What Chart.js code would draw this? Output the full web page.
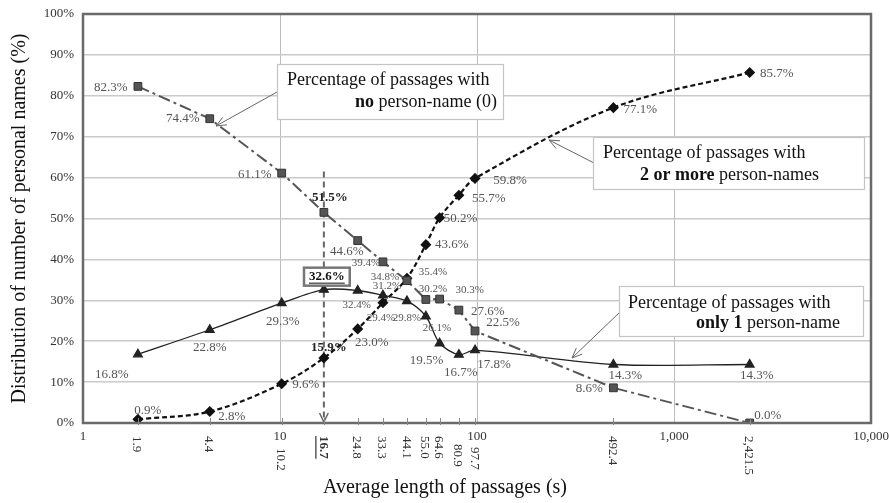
<!DOCTYPE html>
<html>
<head>
<meta charset="utf-8">
<script src="https://cdn.jsdelivr.net/npm/chart.js@4.4.1/dist/chart.umd.min.js"></script>
<style>
  html, body { margin: 0; padding: 0; background: #fff; }
  #wrap { width: 889px; height: 503px; position: relative; }
</style>
</head>
<body>
<div id="wrap"><canvas id="c"></canvas></div>
<script>
// ---------------- DATA ----------------
const xValues = [1.9, 4.4, 10.2, 16.7, 24.8, 33.3, 44.1, 55.0, 64.6, 80.9, 97.7, 492.4, 2421.5];
const xValueLabels = ['1.9', '4.4', '10.2', '16.7', '24.8', '33.3', '44.1', '55.0', '64.6', '80.9', '97.7', '492.4', '2,421.5'];
const noNameValues  = [82.3, 74.4, 61.1, 51.5, 44.6, 39.4, 34.8, 30.2, 30.3, 27.6, 22.5, 8.6, 0.0];
const oneNameValues = [16.8, 22.8, 29.3, 32.6, 32.4, 31.2, 29.8, 26.1, 19.5, 16.7, 17.8, 14.3, 14.3];
const twoMoreValues = [0.9, 2.8, 9.6, 15.9, 23.0, 29.4, 35.4, 43.6, 50.2, 55.7, 59.8, 77.1, 85.7];
const decadeTicks  = [1, 10, 100, 1000, 10000];
const decadeLabels = ['1', '10', '100', '1,000', '10,000'];
const highlightIndex = 3;        // 16.7 s
const highlightTop = 61.5;       // top of the dashed marker line (%)

// ---------------- LABEL LAYOUT (pixel offsets from each point) ----------------
// [dx, dy, size, bold]
const noNameLabelPos = [
  [-27, 1, 13], [-27, 0, 13], [-27, 1, 13], [6, -15, 13, true], [-11, 11, 13],
  [-17, 1, 11], [-22, -4, 11], [7, -10, 11], [30, -9, 11], [29, 1, 13],
  [28, -8, 13], [-24, 1, 13], [18, -7, 13]
];
const oneNameLabelPos = [
  [-26, 20, 13], [0, 18, 13], [1, 18, 13], [3, -13, 13, true], [-1, 15, 11],
  [4, -9, 11], [0, 17, 11], [11, 12, 11], [-13, 17, 13], [2, 18, 13],
  [19, 14, 13], [12, 11, 13], [7, 11, 13]
];
const twoMoreLabelPos = [
  [10, -9, 13], [22, 5, 13], [24, 1, 13], [5, -10, 13, true], [14, 14, 13],
  [-2, 15, 11], [26, -6, 11], [26, 0, 13], [21, 1, 13], [30, 3, 13],
  [35, 2, 13], [27, 2, 13], [27, 1, 13]
];
const xLabelShift = [0, 0, 12, 0, 0, 0, 0, 0, 0, 8, 11, 0, 0];

const SERIF = '"Liberation Serif", "DejaVu Serif", serif';

const callouts = [
  { box: [277, 64, 503, 119], arrowFrom: [277, 92], arrowTo: [216, 126],
    lines: [
      { y: 80, x: 287, align: 'left', parts: [['Percentage of passages with', false]] },
      { y: 102, x: 497, align: 'right', parts: [['no', true], [' person-name (0)', false]] }
    ] },
  { box: [593, 137, 864, 189], arrowFrom: [594, 163], arrowTo: [549, 140],
    lines: [
      { y: 153, x: 603, align: 'left', parts: [['Percentage of passages with', false]] },
      { y: 175, x: 819, align: 'right', parts: [['2 or more', true], [' person-names', false]] }
    ] },
  { box: [619, 286, 863, 336], arrowFrom: [620, 312], arrowTo: [572, 358],
    lines: [
      { y: 303, x: 628, align: 'left', parts: [['Percentage of passages with', false]] },
      { y: 323, x: 840, align: 'right', parts: [['only 1', true], [' person-name', false]] }
    ] }
];

function pts(ys) { return xValues.map((x, i) => ({ x: x, y: ys[i] })); }

function arrowHead(ctx, x0, y0, x1, y1, len, spread) {
  const a = Math.atan2(y1 - y0, x1 - x0);
  ctx.beginPath();
  ctx.moveTo(x1 - len * Math.cos(a - spread), y1 - len * Math.sin(a - spread));
  ctx.lineTo(x1, y1);
  ctx.lineTo(x1 - len * Math.cos(a + spread), y1 - len * Math.sin(a + spread));
  ctx.stroke();
}

const decorPlugin = {
  id: 'decor',
  beforeDatasetsDraw(chart) {
    const ctx = chart.ctx, xs = chart.scales.x, ys = chart.scales.y;
    const px = xs.getPixelForValue(xValues[highlightIndex]);
    const top = ys.getPixelForValue(highlightTop);
    const bot = ys.getPixelForValue(0);
    ctx.save();
    ctx.strokeStyle = '#666';
    ctx.lineWidth = 2;
    ctx.setLineDash([6, 4]);
    ctx.beginPath(); ctx.moveTo(px, top); ctx.lineTo(px, bot - 2); ctx.stroke();
    ctx.setLineDash([]);
    ctx.lineWidth = 1.5;
    arrowHead(ctx, px, top, px, bot - 1, 10, 0.45);
    ctx.restore();
  },
  afterDraw(chart) {
    const ctx = chart.ctx, xs = chart.scales.x, ys = chart.scales.y;
    const ca = chart.chartArea;
    ctx.save();
    // frame
    ctx.strokeStyle = '#6a6a6a';
    ctx.lineWidth = 2.5;
    ctx.strokeRect(ca.left, ca.top, ca.right - ca.left, ca.bottom - ca.top);
    // small tick marks at data x positions
    ctx.strokeStyle = '#888';
    ctx.lineWidth = 1;
    xValues.forEach(v => {
      const px = Math.round(xs.getPixelForValue(v)) + 0.5;
      ctx.beginPath(); ctx.moveTo(px, ca.bottom - 5); ctx.lineTo(px, ca.bottom + 2); ctx.stroke();
    });
    // rotated x labels
    ctx.fillStyle = '#333';
    xValues.forEach((v, i) => {
      const px = xs.getPixelForValue(v);
      const bold = i === highlightIndex;
      ctx.save();
      ctx.translate(px - 1, 436 + xLabelShift[i]);
      ctx.rotate(Math.PI / 2);
      ctx.font = (bold ? 'bold ' : '') + '13px ' + SERIF;
      ctx.textAlign = 'left';
      ctx.textBaseline = 'middle';
      ctx.fillText(xValueLabels[i], 0, 0);
      if (bold) {
        const w = ctx.measureText(xValueLabels[i]).width;
        ctx.strokeStyle = '#333'; ctx.lineWidth = 1.2;
        ctx.beginPath(); ctx.moveTo(0, 7); ctx.lineTo(w, 7); ctx.stroke();
      }
      ctx.restore();
    });
    // data labels
    const drawLabels = (vals, pos) => {
      vals.forEach((v, i) => {
        const px = xs.getPixelForValue(xValues[i]);
        const py = ys.getPixelForValue(v);
        const p = pos[i];
        ctx.font = (p[3] ? 'bold ' : '') + p[2] + 'px ' + SERIF;
        ctx.fillStyle = p[3] ? '#222' : '#555';
        ctx.textAlign = 'center';
        ctx.textBaseline = 'middle';
        ctx.fillText(v.toFixed(1) + '%', px + p[0], py + p[1]);
      });
    };
    drawLabels(noNameValues, noNameLabelPos);
    drawLabels(twoMoreValues, twoMoreLabelPos);
    // highlighted label with box (only-1 series at 16.7)
    oneNameValues.forEach((v, i) => {
      const px = xs.getPixelForValue(xValues[i]);
      const py = ys.getPixelForValue(v);
      const p = oneNameLabelPos[i];
      const tx = px + p[0], ty = py + p[1];
      const txt = v.toFixed(1) + '%';
      ctx.font = (p[3] ? 'bold ' : '') + p[2] + 'px ' + SERIF;
      ctx.textAlign = 'center';
      ctx.textBaseline = 'middle';
      if (i === highlightIndex) {
        const w = ctx.measureText(txt).width;
        ctx.fillStyle = '#fff';
        ctx.fillRect(tx - w / 2 - 5, ty - 9, w + 10, 18);
        ctx.strokeStyle = '#777'; ctx.lineWidth = 2.5;
        ctx.strokeRect(tx - w / 2 - 5, ty - 9, w + 10, 18);
        ctx.fillStyle = '#111';
        ctx.fillText(txt, tx, ty);
        ctx.strokeStyle = '#111'; ctx.lineWidth = 1;
        ctx.beginPath(); ctx.moveTo(tx - w / 2, ty + 6.5); ctx.lineTo(tx + w / 2, ty + 6.5); ctx.stroke();
      } else {
        ctx.fillStyle = '#555';
        ctx.fillText(txt, tx, ty);
      }
    });
    // callouts
    callouts.forEach(c => {
      ctx.strokeStyle = '#666'; ctx.lineWidth = 1;
      ctx.beginPath(); ctx.moveTo(c.arrowFrom[0], c.arrowFrom[1]); ctx.lineTo(c.arrowTo[0], c.arrowTo[1]); ctx.stroke();
      arrowHead(ctx, c.arrowFrom[0], c.arrowFrom[1], c.arrowTo[0], c.arrowTo[1], 11, 0.4);
      const [x1, y1, x2, y2] = c.box;
      ctx.fillStyle = '#fff';
      ctx.fillRect(x1, y1, x2 - x1, y2 - y1);
      ctx.strokeStyle = '#c4c4c4'; ctx.lineWidth = 1.2;
      ctx.strokeRect(x1 + 0.5, y1 + 0.5, x2 - x1, y2 - y1);
      c.lines.forEach(l => {
        ctx.textBaseline = 'middle';
        ctx.textAlign = 'left';
        let widths = l.parts.map(pt => { ctx.font = (pt[1] ? 'bold ' : '') + '18px ' + SERIF; return ctx.measureText(pt[0]).width; });
        const total = widths.reduce((a, b) => a + b, 0);
        let x = l.align === 'left' ? l.x : l.x - total;
        l.parts.forEach((pt, k) => {
          ctx.font = (pt[1] ? 'bold ' : '') + '18px ' + SERIF;
          ctx.fillStyle = '#111';
          ctx.fillText(pt[0], x, l.y);
          x += widths[k];
        });
      });
    });
    // axis titles
    ctx.fillStyle = '#111';
    ctx.font = '20px ' + SERIF;
    ctx.textAlign = 'center';
    ctx.textBaseline = 'middle';
    ctx.fillText('Average length of passages (s)', 445, 488);
    ctx.save();
    ctx.translate(20, (ca.top + ca.bottom) / 2);
    ctx.rotate(-Math.PI / 2);
    ctx.fillText('Distribution of number of personal names (%)', 0, 0);
    ctx.restore();
    ctx.restore();
  }
};

new Chart(document.getElementById('c'), {
  type: 'line',
  data: {
    datasets: [
      {
        label: 'no person-name (0)',
        data: pts(noNameValues),
        borderColor: '#555',
        borderWidth: 2,
        borderDash: [12, 4, 3, 4],
        pointStyle: 'rect',
        pointRadius: 5.5,
        pointBackgroundColor: '#555',
        pointBorderColor: '#333',
        pointBorderWidth: 1,
        tension: 0
      },
      {
        label: 'only 1 person-name',
        data: pts(oneNameValues),
        borderColor: '#222',
        borderWidth: 1.3,
        pointStyle: 'triangle',
        pointRadius: 5,
        pointBackgroundColor: '#222',
        pointBorderColor: '#222',
        tension: 0.3
      },
      {
        label: '2 or more person-names',
        data: pts(twoMoreValues),
        borderColor: '#111',
        borderWidth: 2.2,
        borderDash: [5, 3],
        pointStyle: 'rectRot',
        pointRadius: 4,
        pointBackgroundColor: '#111',
        pointBorderColor: '#111',
        tension: 0.35
      }
    ]
  },
  options: {
    responsive: true,
    maintainAspectRatio: false,
    animation: false,
    layout: { padding: { top: 14, right: 18, left: 0, bottom: 0 } },
    plugins: { legend: { display: false }, tooltip: { enabled: false } },
    scales: {
      x: {
        type: 'logarithmic',
        min: 1, max: 10000,
        afterBuildTicks(scale) { scale.ticks = decadeTicks.map(v => ({ value: v })); },
        afterFit(scale) { scale.height = 80; scale.paddingLeft = 0; scale.paddingRight = 0; },
        ticks: {
          autoSkip: false, maxRotation: 0, minRotation: 0, padding: 6,
          color: '#333',
          font: { family: SERIF, size: 13 },
          callback(v) { const i = decadeTicks.indexOf(v); return i >= 0 ? decadeLabels[i] : ''; }
        },
        grid: { color: '#bdbdbd', lineWidth: 1, drawTicks: false },
        border: { display: false }
      },
      y: {
        min: 0, max: 100,
        afterFit(scale) { scale.width = 83; scale.paddingTop = 0; scale.paddingBottom = 0; },
        ticks: {
          stepSize: 10, padding: 9, color: '#333',
          font: { family: SERIF, size: 13 },
          callback(v) { return v + '%'; }
        },
        grid: { color: '#cacaca', lineWidth: 1.5, drawTicks: false },
        border: { display: false }
      }
    }
  },
  plugins: [decorPlugin]
});
</script>
</body>
</html>
